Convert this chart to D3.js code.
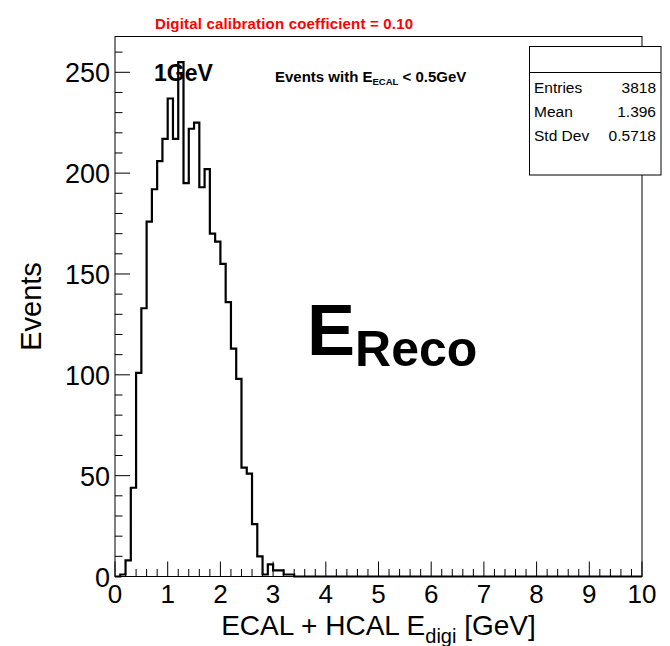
<!DOCTYPE html>
<html>
<head>
<meta charset="utf-8">
<script src="https://cdn.jsdelivr.net/npm/d3@7"></script>
<style>
  html, body { margin: 0; padding: 0; background: #fff; }
  svg { display: block; font-family: "Liberation Sans", Arial, Helvetica, sans-serif; }
</style>
</head>
<body>
<svg id="chart" width="670" height="646"></svg>
<script>
// ---- data ----
const xRange = [0, 10];            // histogram axis range [GeV]
const binCounts = [
  0, 1, 8, 44, 101, 133, 176, 192, 206, 217,
  237, 217, 255, 195, 222, 225, 193, 202, 170, 166,
  155, 136, 113, 98, 54, 51, 26, 10, 1, 6,
  3, 3, 1, 1, 0, 0, 0, 0, 0, 0,
  0, 0, 0, 0, 0, 0, 0, 0, 0, 0,
  0, 0, 0, 0, 0, 0, 0, 0, 0, 0,
  0, 0, 0, 0, 0, 0, 0, 0, 0, 0,
  0, 0, 0, 0, 0, 0, 0, 0, 0, 0,
  0, 0, 0, 0, 0, 0, 0, 0, 0, 0,
  0, 0, 0, 0, 0, 0, 0, 0, 0, 0
];
const xTickValues = [0, 1, 2, 3, 4, 5, 6, 7, 8, 9, 10];
const yTickValues = [0, 50, 100, 150, 200, 250];
const statLabels = ["Entries", "Mean", "Std Dev"];
const statValues = ["3818", "1.396", "0.5718"];
const titleText = "Digital calibration coefficient = 0.10";
const energyText = "1GeV";

(function () {
// ---- layout ----
const svg = d3.select("#chart");
const pl = 115, pr = 642, pt = 36.5, pb = 576.5;

const nBins = binCounts.length;
const binW = (xRange[1] - xRange[0]) / nBins;
const x = d3.scaleLinear().domain(xRange).range([pl, pr]);
const y = d3.scaleLinear().domain([0, d3.max(binCounts) * 1.05]).range([pb, pt]);

svg.append("rect").attr("width", 670).attr("height", 646).attr("fill", "#fff");

// frame
svg.append("rect")
  .attr("x", pl).attr("y", pt)
  .attr("width", pr - pl).attr("height", pb - pt)
  .attr("fill", "none").attr("stroke", "#000").attr("stroke-width", 1);

// histogram outline
const pts = [[x(xRange[0]), y(0)]];
binCounts.forEach((c, i) => {
  const lo = xRange[0] + i * binW, hi = lo + binW;
  pts.push([x(lo), y(c)], [x(hi), y(c)]);
});
pts.push([x(xRange[1]), y(0)]);
svg.append("path")
  .attr("d", d3.line()(pts))
  .attr("fill", "none").attr("stroke", "#000").attr("stroke-width", 2.2)
  .attr("stroke-linejoin", "miter");

// x axis ticks (inside, upward)
const xMinor = d3.range(0, 51).map(i => xRange[0] + i * 0.2);
svg.append("g").selectAll("line").data(xMinor).join("line")
  .attr("x1", d => x(d)).attr("x2", d => x(d))
  .attr("y1", pb).attr("y2", d => Math.abs(d - Math.round(d)) < 1e-6 ? pb - 15 : pb - 7.5)
  .attr("stroke", "#000").attr("stroke-width", 1);
svg.append("g").selectAll("text").data(xTickValues).join("text")
  .attr("x", d => x(d)).attr("y", 603)
  .attr("text-anchor", "middle").attr("font-size", 26).attr("fill", "#000")
  .text(d => d);

// y axis ticks (inside, rightward)
const yMinor = d3.range(0, 27).map(i => i * 10);
svg.append("g").selectAll("line").data(yMinor.filter(v => y(v) >= pt)).join("line")
  .attr("x1", pl).attr("x2", d => d % 50 === 0 ? pl + 15 : pl + 7.5)
  .attr("y1", d => y(d)).attr("y2", d => y(d))
  .attr("stroke", "#000").attr("stroke-width", 1);
svg.append("g").selectAll("text").data(yTickValues).join("text")
  .attr("x", 110).attr("y", d => y(d) + 10)
  .attr("text-anchor", "end").attr("font-size", 27).attr("fill", "#000")
  .text(d => d);

// axis titles
const xt = svg.append("text")
  .attr("x", (pl + pr) / 2).attr("y", 634.5)
  .attr("text-anchor", "middle").attr("font-size", 28).attr("fill", "#000");
xt.append("tspan").text("ECAL + HCAL E");
xt.append("tspan").attr("font-size", 20).attr("dy", 8).text("digi");
xt.append("tspan").attr("dy", -8).text(" [GeV]");

svg.append("text")
  .attr("transform", `translate(41,${(pt + pb) / 2}) rotate(-90)`)
  .attr("text-anchor", "middle").attr("font-size", 29).attr("fill", "#000")
  .text("Events");

// red title
svg.append("text")
  .attr("x", 155).attr("y", 29)
  .attr("font-size", 15).attr("font-weight", "bold").attr("fill", "#ff0000")
  .attr("textLength", 258).attr("lengthAdjust", "spacing")
  .text(titleText);

// 1GeV
svg.append("text")
  .attr("x", 154).attr("y", 81)
  .attr("font-size", 23).attr("font-weight", "bold").attr("fill", "#000")
  .text(energyText);

// Events with E_ECAL < 0.5GeV
const ev = svg.append("text")
  .attr("x", 275).attr("y", 82)
  .attr("font-size", 15).attr("font-weight", "bold").attr("fill", "#000");
ev.append("tspan").text("Events with E");
ev.append("tspan").attr("font-size", 9.5).attr("dy", 3).text("ECAL");
ev.append("tspan").attr("dy", -3).text(" < 0.5GeV");

// E_Reco
const er = svg.append("text")
  .attr("x", 307).attr("y", 355)
  .attr("font-size", 72).attr("font-weight", "bold").attr("fill", "#000");
er.append("tspan").text("E");
er.append("tspan").attr("font-size", 50).attr("dy", 11).text("Reco");

// stats box
const sb = { x: 529.5, y: 46.5, w: 131.5, h: 128.5, head: 72.5 };
svg.append("rect")
  .attr("x", sb.x).attr("y", sb.y).attr("width", sb.w).attr("height", sb.h)
  .attr("fill", "#fff").attr("stroke", "#000").attr("stroke-width", 1);
svg.append("line")
  .attr("x1", sb.x).attr("x2", sb.x + sb.w).attr("y1", sb.head).attr("y2", sb.head)
  .attr("stroke", "#000").attr("stroke-width", 1);
const rowY = [93, 117, 141];
svg.append("g").selectAll("text").data(statLabels).join("text")
  .attr("x", 534).attr("y", (d, i) => rowY[i])
  .attr("font-size", 15.5).attr("fill", "#000").text(d => d);
svg.append("g").selectAll("text").data(statValues).join("text")
  .attr("x", 656).attr("y", (d, i) => rowY[i])
  .attr("text-anchor", "end").attr("font-size", 15.5).attr("fill", "#000").text(d => d);
})();
</script>
</body>
</html>
